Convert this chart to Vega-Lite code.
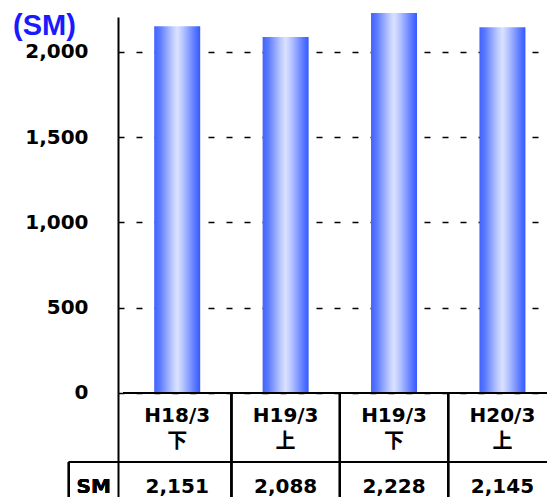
{
  "$schema": "https://vega.github.io/schema/vega-lite/v6.json",
  "width": 429,
  "height": 480,
  "autosize": {"type": "none"},
  "padding": {"left": 118, "top": 17, "right": 0, "bottom": 0},
  "background": "white",
  "config": {"view": {"stroke": null}},
  "title": {
    "text": "(SM)",
    "anchor": "start",
    "frame": "group",
    "orient": "top",
    "dx": -105,
    "dy": 28,
    "offset": 0,
    "font": "Liberation Sans",
    "fontSize": 29,
    "fontWeight": "bold",
    "color": "#1a1aff"
  },
  "data": {
    "values": [
      {"k": 0, "term": "H18/3", "half": "下", "sm": 2151},
      {"k": 1, "term": "H19/3", "half": "上", "sm": 2088},
      {"k": 2, "term": "H19/3", "half": "下", "sm": 2228},
      {"k": 3, "term": "H20/3", "half": "上", "sm": 2145}
    ]
  },
  "layer": [
    {
      "mark": {
        "type": "bar",
        "orient": "vertical",
        "size": 46,
        "color": {
          "gradient": "linear",
          "x1": 0, "x2": 1, "y1": 0, "y2": 0,
          "stops": [
            {"offset": 0, "color": "#4063ff"},
            {"offset": 0.12, "color": "#5a7aff"},
            {"offset": 0.25, "color": "#8aa0ff"},
            {"offset": 0.38, "color": "#b8c6ff"},
            {"offset": 0.5, "color": "#dbe2ff"},
            {"offset": 0.62, "color": "#b8c6ff"},
            {"offset": 0.75, "color": "#8aa0ff"},
            {"offset": 0.88, "color": "#5a7aff"},
            {"offset": 1, "color": "#3558ff"}
          ]
        }
      },
      "encoding": {
        "x": {"field": "k", "type": "quantitative", "scale": {"domain": [-0.5, 3.365], "nice": false, "zero": false}, "axis": null},
        "y": {
          "field": "sm", "type": "quantitative",
          "scale": {"domain": [-610, 2205], "nice": false, "zero": false},
          "axis": {
            "values": [0, 500, 1000, 1500, 2000],
            "labelExpr": "format(datum.value, ',')",
            "title": null,
            "ticks": false,
            "labelPadding": 30,
            "labelFont": "DejaVu Sans",
            "labelFontWeight": "bold",
            "labelFontSize": 20,
            "labelColor": "black",
            "domainColor": "black",
            "domainWidth": 2,
            "grid": true,
            "gridColor": "black",
            "gridWidth": 1.6,
            "gridDash": [6, 12],
            "gridOpacity": 1
          }
        },
        "y2": {"datum": 0}
      }
    },
    {
      "mark": {"type": "rule", "color": "black", "strokeWidth": 2},
      "encoding": {"x": {"datum": -0.5, "axis": null}, "x2": {"datum": 3.5}, "y": {"datum": 0}}
    },
    {
      "mark": {"type": "rule", "color": "black", "strokeWidth": 2},
      "encoding": {"x": {"datum": -1, "axis": null}, "x2": {"datum": 3.5}, "y": {"datum": -405}}
    },
    {
      "mark": {"type": "rule", "color": "black", "strokeWidth": 2},
      "encoding": {"x": {"datum": 0.5, "axis": null}, "y": {"datum": 0}, "y2": {"datum": -610}}
    },
    {
      "mark": {"type": "rule", "color": "black", "strokeWidth": 2},
      "encoding": {"x": {"datum": 1.5, "axis": null}, "y": {"datum": 0}, "y2": {"datum": -610}}
    },
    {
      "mark": {"type": "rule", "color": "black", "strokeWidth": 2},
      "encoding": {"x": {"datum": 2.5, "axis": null}, "y": {"datum": 0}, "y2": {"datum": -610}}
    },
    {
      "mark": {"type": "rule", "color": "black", "strokeWidth": 2},
      "encoding": {"x": {"datum": -1, "axis": null}, "y": {"datum": -405}, "y2": {"datum": -610}}
    },
    {
      "mark": {"type": "text", "font": "DejaVu Sans", "fontWeight": "bold", "fontSize": 20, "color": "black", "baseline": "middle"},
      "encoding": {"x": {"field": "k", "type": "quantitative", "axis": null}, "y": {"datum": -135}, "text": {"field": "term"}}
    },
    {
      "mark": {"type": "text", "font": "Noto Sans CJK JP", "fontWeight": "bold", "fontSize": 20, "color": "black", "baseline": "middle"},
      "encoding": {"x": {"field": "k", "type": "quantitative", "axis": null}, "y": {"datum": -287}, "text": {"field": "half"}}
    },
    {
      "mark": {"type": "text", "font": "DejaVu Sans", "fontWeight": "bold", "fontSize": 20, "color": "black", "baseline": "middle"},
      "encoding": {"x": {"field": "k", "type": "quantitative", "axis": null}, "y": {"datum": -551}, "text": {"field": "sm", "format": ","}}
    },
    {
      "mark": {"type": "text", "font": "DejaVu Sans", "fontWeight": "bold", "fontSize": 20, "color": "black", "baseline": "middle"},
      "encoding": {"x": {"datum": -0.77, "axis": null}, "y": {"datum": -551}, "text": {"value": "SM"}}
    }
  ]
}
